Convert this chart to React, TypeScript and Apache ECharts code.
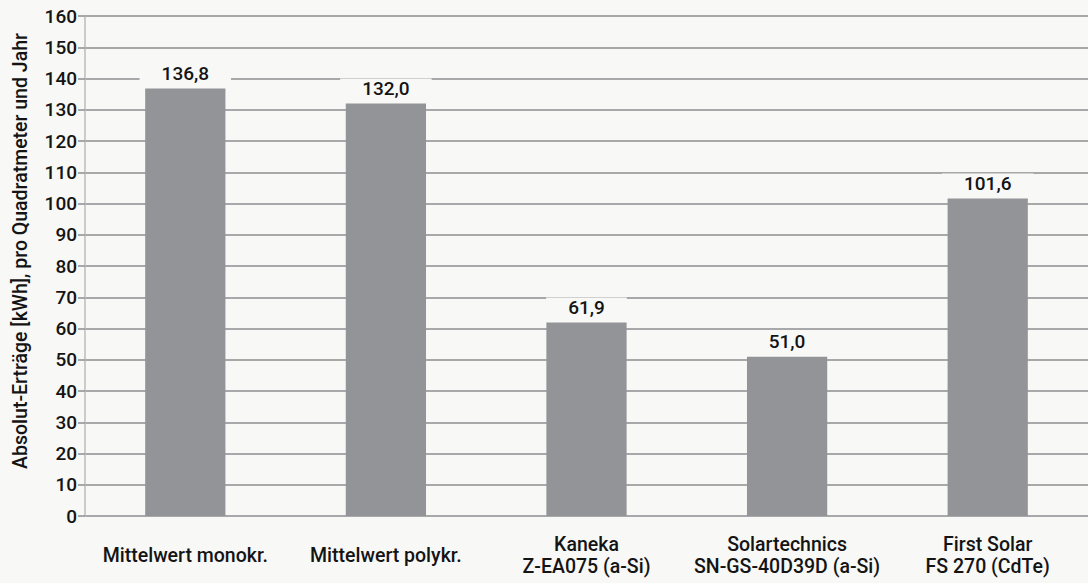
import React, { useEffect, useRef } from "react";
import * as echarts from "echarts";

const categories = [
  "Mittelwert monokr.",
  "Mittelwert polykr.",
  "Kaneka\nZ-EA075 (a-Si)",
  "Solartechnics\nSN-GS-40D39D (a-Si)",
  "First Solar\nFS 270 (CdTe)",
];
const values = [136.8, 132.0, 61.9, 51.0, 101.6];
const yMin = 0;
const yMax = 160;
const yStep = 10;
const yTitle = "Absolut-Erträge [kWh], pro Quadratmeter und Jahr";

const FONT = "Roboto, 'Liberation Sans', sans-serif";
const BG = "#f8f8f7";
const GRID_COLOR = "#8e8e91";
const BAR_COLOR = "#939497";
const TEXT = "#141414";

export default function App() {
  const ref = useRef<HTMLDivElement>(null);
  useEffect(() => {
    if (!ref.current) return;
    const chart = echarts.init(ref.current, undefined, { renderer: "svg" });
    chart.setOption({
      animation: false,
      backgroundColor: BG,
      grid: { left: 85, right: 0, top: 16, bottom: 67, containLabel: false },
      xAxis: {
        type: "category",
        data: categories,
        axisLine: { show: false },
        axisTick: { show: false },
        splitLine: { show: false },
        axisLabel: {
          interval: 0,
          margin: 39,
          verticalAlign: "middle",
          fontFamily: FONT,
          fontSize: 19.5,
          fontWeight: 500,
          lineHeight: 22,
          color: TEXT,
        },
      },
      yAxis: {
        type: "value",
        min: yMin,
        max: yMax,
        interval: yStep,
        axisLine: { show: true, lineStyle: { color: "#bdbdbd", width: 1.5 } },
        axisTick: { show: true, length: 7, lineStyle: { color: GRID_COLOR, width: 1.5 } },
        splitLine: { show: true, lineStyle: { color: GRID_COLOR, width: 1.5 } },
        axisLabel: {
          margin: 8,
          fontFamily: FONT,
          fontSize: 19,
          fontWeight: 500,
          color: TEXT,
        },
      },
      graphic: [
        {
          type: "text",
          x: 20,
          y: 251,
          rotation: Math.PI / 2,
          style: {
            text: yTitle,
            fontFamily: FONT,
            fontSize: 19.5,
            fontWeight: 500,
            fill: TEXT,
            align: "center",
            verticalAlign: "middle",
          },
        },
      ],
      series: [
        {
          type: "bar",
          data: values,
          barWidth: "40%",
          itemStyle: { color: BAR_COLOR },
          label: {
            show: true,
            position: "top",
            distance: 6,
            formatter: (p: any) => Number(p.value).toFixed(1).replace(".", ","),
            fontFamily: FONT,
            fontSize: 19,
            fontWeight: 500,
            color: TEXT,
            backgroundColor: BG,
            padding: [0, 22],
          },
        },
      ],
    });
    return () => chart.dispose();
  }, []);
  return <div ref={ref} style={{ width: 1088, height: 583, position: "absolute", left: 0, top: 0 }} />;
}
